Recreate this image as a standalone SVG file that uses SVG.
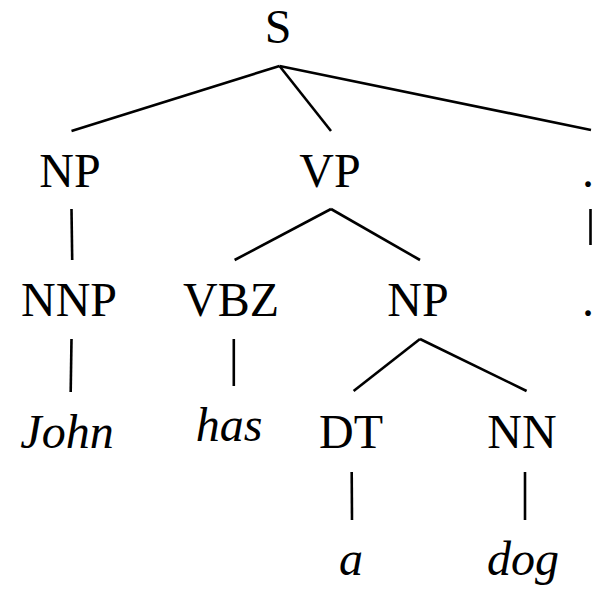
<svg xmlns="http://www.w3.org/2000/svg" width="594" height="589" viewBox="0 0 594 589">
<style>
text{font-family:"Liberation Serif","Times New Roman",serif;font-size:48px;fill:#000;text-anchor:middle}
.leaf{font-style:italic}
.edges line{stroke:#000;stroke-width:2.6;stroke-linecap:butt}
</style>
<rect width="594" height="589" fill="#fff"/>
<g class="edges" id="connectors">
<line x1="279.5" y1="66" x2="71.5" y2="131"/>
<line x1="279.5" y1="66" x2="331" y2="131"/>
<line x1="279.5" y1="66" x2="591" y2="130"/>
<line x1="71.5" y1="209" x2="72.2" y2="260"/>
<line x1="331" y1="209" x2="234.6" y2="260"/>
<line x1="331" y1="209" x2="420" y2="260"/>
<line x1="590.5" y1="209" x2="590.5" y2="245"/>
<line x1="71.5" y1="339" x2="70.7" y2="392"/>
<line x1="233.8" y1="339" x2="233.8" y2="386"/>
<line x1="420" y1="339" x2="353.6" y2="391"/>
<line x1="420" y1="339" x2="526.6" y2="391"/>
<line x1="351.7" y1="472" x2="352" y2="520"/>
<line x1="525" y1="472" x2="525" y2="520"/>
</g>
<g id="S"><text x="278" y="43">S</text></g>
<g id="NP1"><text x="70" y="187">NP</text></g>
<g id="VP"><text x="330" y="187">VP</text></g>
<g id="PUNCT1"><text x="588" y="187">.</text></g>
<g id="NNP"><text x="69" y="316">NNP</text></g>
<g id="VBZ"><text x="231" y="316">VBZ</text></g>
<g id="NP2"><text x="418" y="316">NP</text></g>
<g id="PUNCT2"><text x="588" y="316">.</text></g>
<g id="John"><text class="leaf" x="67" y="448">John</text></g>
<g id="has"><text class="leaf" x="229" y="441">has</text></g>
<g id="DT"><text x="351" y="448">DT</text></g>
<g id="NN"><text x="522" y="448">NN</text></g>
<g id="a"><text class="leaf" x="351" y="575">a</text></g>
<g id="dog"><text class="leaf" x="523" y="575">dog</text></g>
</svg>
